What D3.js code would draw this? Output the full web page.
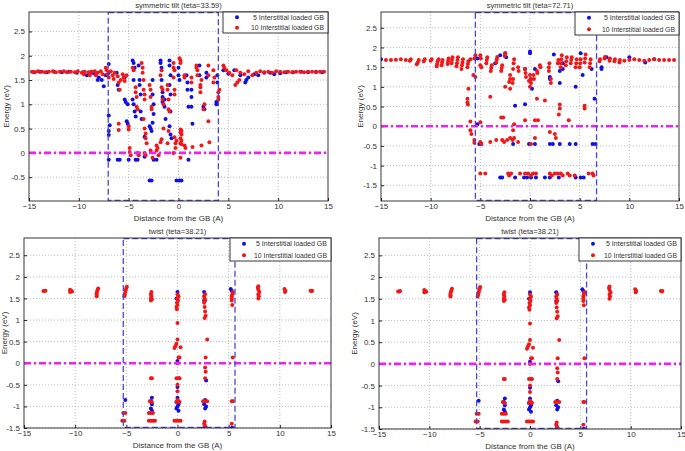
<!DOCTYPE html>
<html><head><meta charset="utf-8">
<script src="https://cdn.jsdelivr.net/npm/d3@7"></script>
<style>body{margin:0;background:#fff}svg{display:block}text{font-family:"Liberation Sans",Arial,sans-serif;fill:#333}</style>
</head><body><svg id="c" width="685" height="451"></svg>
<script>
// ---------- data ----------
const titles = ["symmetric tilt (teta=33.59)", "symmetric tilt (teta=72.71)", "twist (teta=38.21)", "twist (teta=38.21)"];
const legendLabels = ["5 Interstitial loaded GB", "10 Interstitial loaded GB"];
const xTicks = [-15, -10, -5, 0, 5, 10, 15];
const yTicks1 = [-0.5, 0, 0.5, 1, 1.5, 2, 2.5];
const yTicks2 = [-1.5, -1, -0.5, 0, 0.5, 1, 1.5, 2, 2.5];
const yTicks3 = [-1.5, -1, -0.5, 0, 0.5, 1, 1.5, 2, 2.5];
const yDomain1 = [-0.99, 2.9];
const yDomain2 = [-1.9, 2.9];
const yDomain3 = [-1.5, 2.9];
const gbRegion1 = [-7.05, 4.0];
const gbRegion2 = [-5.5, 6.7];
const gbRegion3 = [-5.3, 5.62];
const fermiLevel = [0, 0, 0, 0];

const blue1 = [[-14.5,1.66],[-13.9,1.67],[-13.2,1.66],[-12.5,1.67],[-11.7,1.66],[-11.0,1.67],[-10.2,1.65],[-9.6,1.66],[-9.2,1.6],[-8.8,1.66],[-8.5,1.64],[-8.0,1.55],[-8.1,1.5],
[-7.7,1.5],[-7.5,1.37],[-7.3,1.6],[-7.0,1.83],[-7.0,1.65],[-7.0,0.77],[-6.9,0.57],[-7.0,0.45],[-7.0,0.37],[-7.0,-0.14],[-6.2,1.65],[-6.1,1.4],[-6.0,1.3],[-6.1,-0.14],[-5.9,-0.14],[-5.4,1.55],[-5.4,1.1],[-5.3,1.05],[-5.2,0.65],[-5.1,0.6],[-5.1,1.0],[-5.0,-0.14],[-4.6,1.9],[-4.5,1.85],[-4.4,1.75],[-4.5,1.5],[-4.6,1.1],[-4.5,1.0],[-4.4,0.85],[-4.3,0.75],[-4.3,-0.14],[-4.1,-0.14],[-4.0,1.8],[-3.9,1.5],[-3.9,1.4],[-3.8,1.2],[-3.8,0.85],[-3.7,0.7],[-3.4,0.33],[-3.4,-0.08],[-2.9,0.55],[-2.8,0.5],[-2.7,0.45],[-2.6,0.62],[-2.6,1.2],[-2.5,1.0],[-2.5,0.8],[-2.6,1.5],[-2.9,-0.57],[-2.7,-0.57],[-2.5,-0.14],[-2.2,-0.14],[-1.8,1.9],[-1.8,1.85],[-1.7,1.75],[-1.7,1.5],[-1.6,1.25],[-1.6,1.15],[-1.6,1.05],[-1.4,1.1],[-1.4,0.95],[-1.3,0.7],[-0.9,1.9],[-0.9,1.8],[-0.8,1.6],[-0.9,1.4],[-0.8,1.2],[-0.8,0.85],[-0.9,0.55],[-0.8,0.38],[-0.7,0.3],[-0.2,-0.57],[0.1,-0.57],[0.3,-0.57],[0.0,1.75],[0.0,1.6],[0.1,1.5],[0.8,1.6],[0.9,1.45],[0.9,1.3],[1.0,0.95],[1.0,-0.14],[1.3,1.3],[1.3,1.15],[1.4,0.6],[1.3,0.95],[2.1,1.8],[2.1,1.6],[2.5,0.95],[2.6,0.9],[2.8,1.65],[2.8,1.55],[3.8,1.0],[3.8,1.05],[3.9,1.45],[3.9,1.6],
[4.5,1.7],[5.0,1.63],[5.6,1.7],[6.2,1.6],[6.8,1.5],[6.7,1.45],[7.0,1.55],[7.6,1.62],[8.0,1.6],[8.6,1.65],[9.2,1.65],[9.6,1.62],[10.2,1.64],[10.8,1.66],[11.5,1.66],[12.3,1.67],[13.0,1.66],[13.8,1.67],[14.4,1.66]];

const red1 = [[-14.7,1.67],[-14.4,1.66],[-14.1,1.68],[-13.7,1.67],[-13.4,1.66],[-13.0,1.67],[-12.6,1.68],[-12.3,1.66],[-11.9,1.67],[-11.5,1.68],[-11.2,1.66],[-10.8,1.67],[-10.4,1.66],[-10.1,1.68],[-9.7,1.65],[-9.5,1.62],[-9.4,1.67],[-9.0,1.66],[-8.9,1.6],[-8.7,1.67],[-8.4,1.68],[-8.3,1.6],[-8.1,1.65],[-7.8,1.68],[-7.6,1.62],
[-7.3,1.75],[-7.2,1.7],[-7.1,1.62],[-7.0,1.55],[-6.8,1.68],[-6.6,1.6],[-6.5,1.52],[-6.4,1.65],[-6.1,1.58],[-6.0,1.45],[-6.0,0.6],[-6.0,0.47],[-5.9,1.3],[-5.8,1.5],[-5.6,1.62],[-5.5,1.55],[-5.4,1.48],[-5.2,1.6],[-5.0,0.55],[-5.0,0.48],[-4.9,0.1],[-4.9,0.02],[-4.8,-0.05],[-4.6,1.75],[-4.5,1.7],[-4.3,1.35],[-4.3,1.25],[-4.2,1.15],[-4.2,0.95],[-4.1,0.9],[-4.1,0.0],[-4.0,-0.05],[-3.7,1.85],[-3.6,1.75],[-3.6,1.65],[-3.5,1.5],[-3.5,1.3],[-3.4,1.2],[-3.4,1.1],[-3.5,0.7],[-3.4,0.5],[-3.3,0.4],[-3.3,0.3],[-3.2,0.2],[-3.4,0.0],[-3.3,-0.05],[-2.9,1.4],[-2.8,1.3],[-2.8,1.15],[-2.7,0.95],[-2.7,0.9],[-2.8,0.05],[-2.6,-0.1],[-2.2,0.15],[-2.1,0.1],[-2.2,0.05],[-2.0,-0.05],[-1.8,0.22],[-1.7,0.28],[-1.7,1.35],[-1.6,1.3],[-1.6,1.1],[-1.5,1.0],[-1.8,1.6],[-1.7,1.7],[-1.5,0.5],[-1.1,1.4],[-1.1,1.3],[-1.0,1.1],[-1.0,0.9],[-0.9,0.85],[-1.0,0.45],[-1.1,0.2],[-0.5,1.85],[-0.5,1.75],[-0.4,1.7],[-0.5,1.55],[-0.4,1.3],[-0.4,1.2],[-0.5,0.0],[-0.3,0.1],[-0.4,0.32],[-0.2,0.25],[-0.3,0.2],[0.1,1.95],[0.2,1.9],[0.2,1.85],[0.2,0.48],[0.3,0.45],[0.2,0.42],[0.3,0.38],[0.2,0.3],[0.3,0.25],[0.2,0.2],[0.3,0.18],[0.2,-0.1],[0.6,1.6],[0.6,1.55],[0.6,0.15],[0.7,0.1],[1.3,1.55],[1.3,1.45],[1.4,0.12],[1.8,1.8],[1.8,1.75],[1.9,1.7],[1.9,1.6],[2.2,1.35],[2.2,1.4],[2.3,1.5],[2.2,1.25],[2.3,0.15],[2.5,0.9],[2.6,1.0],[3.0,1.8],[3.0,1.6],[3.0,0.65],[3.1,0.22],[3.5,1.7],[3.6,1.55],[3.5,1.45],[4.0,1.1],[4.0,1.15],[4.0,1.25],[4.1,1.3],[4.5,1.8],[4.6,1.75],[5.7,1.4],[5.9,1.45],[6.1,1.5],
[4.8,1.7],[5.1,1.65],[5.4,1.6],[5.8,1.7],[6.2,1.65],[6.6,1.62],[7.0,1.68],[7.4,1.6],[7.8,1.65],[8.2,1.68],[8.6,1.66],[9.0,1.67],[9.4,1.65],[9.8,1.68],[10.2,1.67],[10.6,1.66],[11.0,1.67],[11.4,1.66],[11.8,1.67],[12.2,1.67],[12.6,1.66],[13.0,1.67],[13.4,1.67],[13.8,1.66],[14.2,1.67],[14.6,1.67]];

const blue2 = [[-15,1.7],[-5.3,1.72],[-5.3,0.05],[-5.1,-0.45],[-4.9,-0.45],[-3.5,1.6],[-3.0,1.8],[-3.0,-1.3],[-2.8,-1.3],[-2.5,1.85],[-2.4,1.75],[-1.7,-0.45],[-1.5,0.52],[-1.5,-1.3],[-0.5,0.56],[-0.5,1.45],[-0.3,-1.3],[-0.6,-1.3],[0.0,1.9],[0.0,1.85],[0.1,1.2],[-0.1,-0.45],[0.1,-1.3],[0.2,0.95],[0.5,-0.45],[0.5,1.45],[0.6,-1.3],[1.5,-1.3],[2.0,1.25],[2.0,1.2],[2.0,-0.45],[2.3,-0.45],[2.0,-1.3],[2.4,1.82],[3.0,1.4],[3.0,1.1],[3.0,-0.45],[2.9,-1.3],[3.3,1.45],[3.3,1.6],[4.0,-0.45],[4.6,1.0],[4.6,-0.45],[4.6,-1.3],[5.1,1.85],[5.1,-1.3],[5.3,1.3],[5.4,-1.3],[6.2,1.45],[6.3,-0.45],[6.5,0.7],[6.6,-0.45],[7.2,1.5],[7.2,1.45],[7.7,1.75],[10.0,1.75],[11.6,1.62],[12.5,1.7]];

const red2 = [[-14.5,1.68],[-14.0,1.68],[-13.5,1.69],[-13.0,1.7],[-12.5,1.68],[-12.1,1.66],[-12.0,1.7],[-11.4,1.57],[-11.3,1.62],[-11.2,1.68],[-10.7,1.65],[-10.6,1.7],[-10.0,1.66],[-9.9,1.7],[-9.4,1.52],[-9.35,1.58],[-9.3,1.65],[-9.2,1.7],[-8.9,1.55],[-8.85,1.62],[-8.8,1.68],[-8.3,1.58],[-8.25,1.65],[-8.2,1.72],[-7.9,1.6],[-7.85,1.68],[-7.8,1.75],[-7.4,1.52],[-7.35,1.6],[-7.3,1.68],[-7.25,1.75],[-6.9,1.45],[-6.85,1.55],[-6.8,1.62],[-6.75,1.7],[-6.3,1.5],[-6.25,1.58],[-6.2,1.65],[-6.0,1.7],[-5.6,1.72],[-5.5,1.8],[-5.7,1.3],[-5.5,1.25],[-5.0,1.8],[-4.95,1.72],[-5.0,1.55],[-4.9,1.5],[-4.4,1.6],[-4.35,1.68],[-4.3,1.75],[-3.95,1.4],[-3.9,1.48],[-3.85,1.55],[-3.4,1.62],[-3.35,1.7],[-3.3,1.76],[-2.9,1.4],[-2.85,1.48],[-2.8,1.55],[-2.55,1.78],[-2.5,1.85],[-2.1,1.12],[-2.0,1.2],[-2.0,1.3],[-1.75,1.1],[-1.7,1.2],[-1.7,1.45],[-1.65,1.6],[-1.6,1.7],[-1.2,1.5],[-1.15,1.4],[-0.5,1.45],[-0.45,1.35],[-0.4,1.25],[0.0,1.3],[0.05,1.2],[-0.1,1.15],[0.1,1.1],[0.0,1.0],[0.35,1.3],[0.4,1.2],[0.7,1.4],[0.75,1.35],[1.0,1.55],[1.05,1.5],[1.9,1.4],[1.9,1.5],[1.95,1.6],[2.1,1.1],[2.1,1.2],[2.8,1.6],[2.85,1.68],[3.1,1.5],[3.1,1.6],[3.15,1.7],[3.2,1.8],[3.6,1.55],[3.65,1.65],[3.7,1.75],[4.1,1.6],[4.15,1.68],[4.2,1.75],[4.6,1.5],[4.65,1.6],[4.7,1.7],[5.0,1.5],[5.05,1.6],[5.1,1.7],[5.5,1.62],[5.55,1.72],[5.6,1.82],[6.0,1.5],[6.05,1.6],[6.1,1.7],[7.0,1.65],[7.05,1.7],[7.5,1.72],[7.55,1.76],[8.0,1.66],[8.05,1.72],[8.5,1.65],[8.55,1.7],[9.0,1.62],[9.05,1.68],[9.5,1.66],[10.0,1.68],[10.5,1.7],[11.0,1.68],[11.5,1.66],[12.0,1.68],[12.5,1.7],[13.0,1.68],[13.5,1.68],[14.0,1.68],[14.5,1.68],
[-6.2,0.95],[-6.3,0.7],[-6.3,0.6],[-6.25,0.55],[-6.0,0.12],[-6.0,-0.1],[-5.9,-0.2],[-5.6,-0.35],[-5.6,-0.42],[-5.0,0.1],[-5.0,-0.4],[-4.9,-0.45],[-5.0,-1.2],[-4.5,-1.2],[-4.0,0.75],[-4.0,-0.4],[-3.4,-0.35],[-2.9,0.22],[-2.7,0.22],[-2.8,-0.35],[-2.6,-0.4],[-2.5,1.0],[-2.0,0.95],[-2.3,-0.35],[-2.2,-1.2],[-2.1,-1.25],[-1.9,-1.2],[-2.0,-0.3],[-1.75,-0.35],[-1.7,-0.1],[-1.6,0.05],[-1.6,-0.3],[-1.2,-0.4],[-1.0,-1.2],[-0.5,0.15],[-0.5,-1.2],[-0.2,-1.2],[0.1,-0.45],[0.1,-1.25],[0.3,-1.2],[0.5,0.15],[0.5,-0.3],[0.6,-1.2],[0.8,0.15],[0.7,0.7],[1.5,0.65],[2.0,-0.15],[2.0,-1.2],[2.2,-1.25],[2.5,-0.2],[2.6,-0.3],[2.5,-1.2],[2.8,-1.2],[2.9,0.3],[3.0,0.55],[3.0,0.45],[3.1,-1.2],[3.3,-1.25],[3.9,0.15],[3.8,-1.2],[4.0,-1.25],[4.5,-1.25],[5.5,0.45],[5.5,0.52],[5.9,-1.2],[6.3,-1.2],[6.4,-1.25]];

const blue3 = [[-5.1,-0.85],[-2.5,-0.8],[-2.6,-0.88],[-2.5,-0.95],[-2.6,-1.05],[-2.5,-1.1],[0.0,1.65],[-0.1,1.5],[0.0,0.05],[0.0,-0.55],[0.0,-0.8],[-0.1,-0.9],[0.1,-0.95],[0.0,-1.0],[-0.1,-1.05],[0.1,-1.1],[2.6,1.65],[2.6,1.45],[2.8,-0.4],[2.7,-0.85],[2.6,-0.95],[2.8,-1.0],[2.7,-1.05],[2.6,-1.5],[2.8,-1.5],[5.2,1.72],[5.3,1.68],[5.3,-1.5],[5.4,-1.5]];

const red3 = [[-13.0,1.67],[-12.9,1.68],[-13.1,1.67],[-10.5,1.65],[-10.4,1.68],[-10.5,1.7],[-10.3,1.66],[-7.9,1.58],[-7.9,1.62],[-7.85,1.67],[-7.8,1.7],[-7.75,1.73],[-7.9,1.55],[-5.2,1.55],[-5.15,1.6],[-5.1,1.65],[-5.05,1.7],[-5.0,1.74],[-4.95,1.77],[-2.6,1.45],[-2.6,1.5],[-2.55,1.55],[-2.6,1.6],[-2.55,1.65],[-2.5,1.48],[-0.1,1.3],[0.0,1.35],[-0.05,1.4],[0.05,1.45],[0.0,1.5],[0.1,1.55],[0.0,1.6],[-0.05,1.25],[2.6,1.55],[2.65,1.5],[2.7,1.45],[2.6,1.4],[2.65,1.3],[2.7,1.2],[2.75,1.1],[2.65,1.05],[2.7,1.6],[5.3,1.55],[5.35,1.6],[5.4,1.65],[5.3,1.5],[5.35,1.35],[5.3,1.45],[7.9,1.5],[7.95,1.55],[7.9,1.6],[8.0,1.65],[7.9,1.7],[7.85,1.75],[7.9,1.78],[10.5,1.65],[10.55,1.68],[10.45,1.72],[13.1,1.67],[13.15,1.68],[13.0,1.68],
[0.0,0.93],[0.0,0.55],[-0.1,0.45],[-0.2,0.4],[-0.3,0.35],[0.3,0.37],[0.1,0.13],[0.2,0.13],[0.0,0.0],[0.1,-0.35],[0.2,-0.35],[-0.1,-0.35],[0.0,-0.5],[0.0,-0.65],[0.0,-0.85],[-0.1,-0.9],[0.1,-0.88],[0.2,-0.9],[-0.3,-1.33],[-0.1,-1.33],[0.1,-1.33],[0.3,-1.33],[2.9,0.55],[2.75,0.13],[2.7,-0.1],[2.75,-0.2],[2.7,-0.35],[2.5,-0.88],[2.7,-0.88],[2.9,-0.88],[2.6,-1.4],[2.7,-1.45],[2.65,-1.35],[-2.6,-0.35],[-2.5,-0.35],[-2.7,-0.88],[-2.5,-0.9],[-2.8,-1.15],[-2.6,-1.15],[-2.4,-1.15],[-2.8,-1.33],[-2.6,-1.33],[-2.4,-1.33],[-2.2,-1.33],[-5.3,-1.15],[-5.1,-1.15],[-5.4,-1.33],[-5.2,-1.33],[5.4,0.13],[5.3,-0.88],[5.4,-0.88],[5.3,-1.4]];

// ---------- layout ----------
const panels = [
  {l:29, r:328, t:12, b:201, yd:yDomain1, yt:yTicks1, gb:gbRegion1, blue:blue1, red:red1, title:titles[0], lg:[223,328,12,33], ylx:6},
  {l:381, r:679, t:12, b:201, yd:yDomain2, yt:yTicks2, gb:gbRegion2, blue:blue2, red:red2, title:titles[1], lg:[575,679,12,35], ylx:360},
  {l:24, r:331, t:238, b:428, yd:yDomain3, yt:yTicks3, gb:gbRegion3, blue:blue3, red:red3, title:titles[2], lg:[230,331,238,261], ylx:4},
  {l:379, r:681, t:238, b:429, yd:yDomain3, yt:yTicks3, gb:gbRegion3, blue:blue3, red:red3, title:titles[3], lg:[579,681,238,261], ylx:354}
];

const svg = d3.select("#c");
const BLUE = "#1010e0", RED = "#f01818";

panels.forEach((p, i) => {
  const x = d3.scaleLinear().domain([-15, 15]).range([p.l, p.r]);
  const y = d3.scaleLinear().domain(p.yd).range([p.b, p.t]);
  const g = svg.append("g");
  const id = "clip" + i;
  svg.append("clipPath").attr("id", id).append("rect")
    .attr("x", p.l).attr("y", p.t).attr("width", p.r - p.l).attr("height", p.b - p.t);

  // grid
  g.selectAll(".gx").data(xTicks.slice(1, -1)).join("line")
    .attr("x1", d => x(d)).attr("x2", d => x(d)).attr("y1", p.t).attr("y2", p.b)
    .attr("stroke", "#aaa").attr("stroke-width", 0.8).attr("stroke-dasharray", "1,2");
  g.selectAll(".gy").data(p.yt).join("line")
    .attr("x1", p.l).attr("x2", p.r).attr("y1", d => y(d)).attr("y2", d => y(d))
    .attr("stroke", "#aaa").attr("stroke-width", 0.8).attr("stroke-dasharray", "1,2");

  // axes with d3
  const xa = g.append("g").attr("transform", `translate(0,${p.b})`)
    .call(d3.axisBottom(x).tickValues(xTicks).tickSize(-3).tickPadding(2.5).tickFormat(d3.format("d")));
  const ya = g.append("g").attr("transform", `translate(${p.l},0)`)
    .call(d3.axisLeft(y).tickValues(p.yt).tickSize(-3).tickPadding(4).tickFormat(d => d));
  [xa, ya].forEach(a => {
    a.select(".domain").remove();
    a.selectAll("line").attr("stroke", "#222");
    a.selectAll("text").attr("font-size", 8).attr("fill", "#333").attr("font-family", "Liberation Sans, Arial, sans-serif");
  });

  const pg = g.append("g").attr("clip-path", `url(#${id})`);
  // points
  pg.selectAll(".b").data(p.blue).join("circle")
    .attr("cx", d => x(d[0])).attr("cy", d => y(d[1])).attr("r", 2).attr("fill", BLUE);
  pg.selectAll(".r").data(p.red).join("circle")
    .attr("cx", d => x(d[0])).attr("cy", d => y(d[1])).attr("r", 2).attr("fill", RED);

  // fermi line
  pg.append("line").attr("x1", p.l).attr("x2", p.r).attr("y1", y(fermiLevel[i])).attr("y2", y(fermiLevel[i]))
    .attr("stroke", "#ee22ee").attr("stroke-width", 2.6).attr("stroke-dasharray", "7,3,2,3");

  // GB region box
  pg.append("rect").attr("x", x(p.gb[0])).attr("y", y(p.yd[1]) + 0.5)
    .attr("width", x(p.gb[1]) - x(p.gb[0])).attr("height", y(p.yd[0]) - y(p.yd[1]) - 1)
    .attr("fill", "none").attr("stroke", "#4848d8").attr("stroke-width", 1.3).attr("stroke-dasharray", "6,3");

  // frame
  g.append("rect").attr("x", p.l).attr("y", p.t).attr("width", p.r - p.l).attr("height", p.b - p.t)
    .attr("fill", "none").attr("stroke", "#222").attr("stroke-width", 0.9);

  // title & labels
  g.append("text").attr("x", (p.l + p.r) / 2).attr("y", p.t - 4).attr("text-anchor", "middle")
    .attr("font-size", 7.5).text(p.title);
  g.append("text").attr("x", (p.l + p.r) / 2).attr("y", p.b + 20).attr("text-anchor", "middle")
    .attr("font-size", 8).text("Distance from the GB (A)");
  g.append("text").attr("transform", `translate(${p.ylx + 3},${(p.t + p.b) / 2}) rotate(-90)`)
    .attr("text-anchor", "middle").attr("font-size", 8).text("Energy (eV)");

  // legend
  const [lx1, lx2, ly1, ly2] = p.lg;
  g.append("rect").attr("x", lx1).attr("y", ly1).attr("width", lx2 - lx1).attr("height", ly2 - ly1)
    .attr("fill", "#fff").attr("stroke", "#222").attr("stroke-width", 0.9);
  const lh = (ly2 - ly1) / 2;
  const tl = [71, 73];
  [BLUE, RED].forEach((c, k) => {
    const cy = ly1 + lh * (k + 0.5);
    g.append("circle").attr("cx", lx1 + 14).attr("cy", cy).attr("r", 2).attr("fill", c);
    g.append("text").attr("x", lx2 - 4 - tl[k]).attr("y", cy + 2.6).attr("font-size", 7.5)
      .attr("textLength", tl[k]).attr("lengthAdjust", "spacingAndGlyphs")
      .text(legendLabels[k]);
  });
});
</script></body></html>
